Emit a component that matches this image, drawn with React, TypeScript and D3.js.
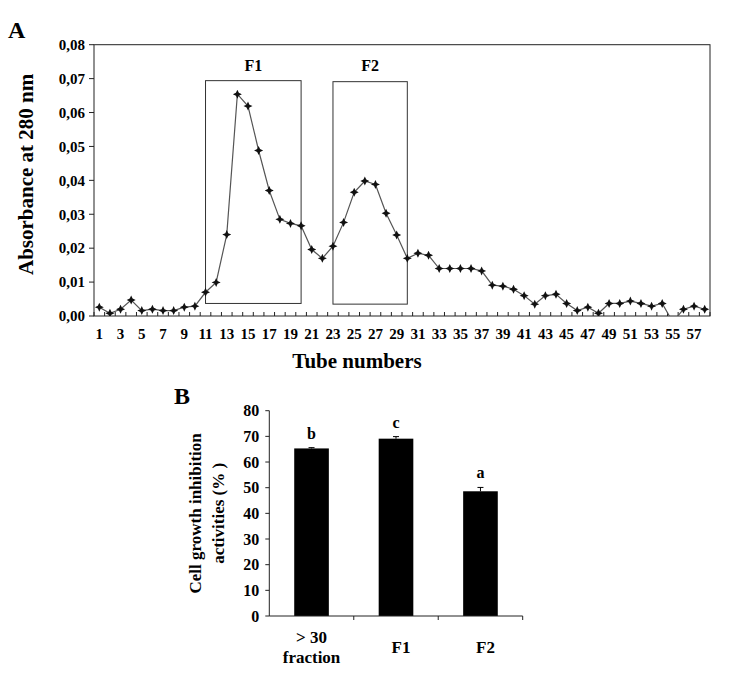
import React from "react";
import * as d3 from "d3";

const tubes: number[] = d3.range(1, 59);
const absorbance: number[] = [
  0.0026, 0.0008, 0.002, 0.0047, 0.0016, 0.002, 0.0016, 0.0016, 0.0026, 0.0029,
  0.007, 0.0099, 0.024, 0.0654, 0.0619, 0.0488, 0.037, 0.0285, 0.0273, 0.0266,
  0.0196, 0.017, 0.0206, 0.0276, 0.0365, 0.0398, 0.0388, 0.0303, 0.0239, 0.017,
  0.0185, 0.0179, 0.014, 0.014, 0.014, 0.014, 0.0133, 0.0091, 0.0088, 0.0079,
  0.006, 0.0035, 0.006, 0.0064, 0.0037, 0.0016, 0.0026, 0.0008, 0.0037, 0.0037,
  0.0044, 0.0037, 0.0029, 0.0037, -0.0018, 0.002, 0.0029, 0.002,
];
const yTicksA: number[] = [0, 0.01, 0.02, 0.03, 0.04, 0.05, 0.06, 0.07, 0.08];

const boxLabels: string[] = ["F1", "F2"];
const boxStart: number[] = [11, 23];
const boxEnd: number[] = [20, 30];
const boxTop: number[] = [0.0694, 0.0691];
const boxBottom: number[] = [0.0037, 0.0035];

const fractions: string[] = ["> 30 fraction", "F1", "F2"];
const inhibition: number[] = [65.3, 69.1, 48.6];
const inhibitionErr: number[] = [0.3, 0.8, 1.5];
const sigLetters: string[] = ["b", "c", "a"];
const yTicksB: number[] = [0, 10, 20, 30, 40, 50, 60, 70, 80];

const FONT = "'Liberation Serif', 'Times New Roman', serif";

function starPath(cx: number, cy: number, r: number): string {
  const s = r * 0.32;
  return `M${cx},${cy - r} L${cx + s},${cy - s} L${cx + r},${cy} L${cx + s},${cy + s} L${cx},${cy + r} L${cx - s},${cy + s} L${cx - r},${cy} L${cx - s},${cy - s} Z`;
}

export default function App() {
  // Chart A
  const aL = 94, aR = 710, aT = 44.7, aB = 316;
  const x = d3.scaleBand<number>().domain(tubes).range([aL, aR]);
  const y = d3.scaleLinear().domain([0, 0.08]).range([aB, aT]);
  const bw = x.bandwidth();
  const cx = (t: number) => (x(t) as number) + bw / 2;
  const line = d3
    .line<number>()
    .x((_, i) => cx(tubes[i]))
    .y((d) => y(d));
  const fmt = (v: number) => v.toFixed(2).replace(".", ",");

  // Chart B
  const bL = 269.3, bR = 522.7, bT = 410.7, bB = 616;
  const xb = d3.scaleBand<string>().domain(fractions).range([bL, bR]);
  const yb = d3.scaleLinear().domain([0, 80]).range([bB, bT]);
  const barW = xb.bandwidth() * 0.41;

  return (
    <svg
      width={740}
      height={682}
      style={{ position: "absolute", left: 0, top: 0, background: "#fff" }}
      fontFamily={FONT}
      fontWeight="bold"
    >
      <rect x={0} y={0} width={740} height={682} fill="#fff" />
      <defs>
        <clipPath id="plotA">
          <rect x={aL} y={aT} width={aR - aL} height={aB - aT} />
        </clipPath>
      </defs>

      {/* Panel A */}
      <text x={8} y={38} fontSize={24}>A</text>
      <rect x={aL} y={aT} width={aR - aL} height={aB - aT} fill="none" stroke="#222" strokeWidth={1} />
      {yTicksA.map((t) => (
        <g key={"ya" + t}>
          <line x1={aL - 5} x2={aL} y1={y(t)} y2={y(t)} stroke="#222" />
          <text x={aL - 9} y={y(t)} dy="0.35em" textAnchor="end" fontSize={15}>
            {fmt(t)}
          </text>
        </g>
      ))}
      {d3.range(0, tubes.length + 1).map((i) => {
        const xx = aL + i * bw;
        return <line key={"xt" + i} x1={xx} x2={xx} y1={aB} y2={aB - 4} stroke="#222" />;
      })}
      {tubes
        .filter((t) => t % 2 === 1)
        .map((t) => (
          <text key={"xl" + t} x={cx(t)} y={339} textAnchor="middle" fontSize={15}>
            {t}
          </text>
        ))}
      <text x={357} y={368} textAnchor="middle" fontSize={21}>
        Tube numbers
      </text>
      <text
        transform={`translate(33,${(aT + aB) / 2 - 6}) rotate(-90)`}
        textAnchor="middle"
        fontSize={21}
      >
        Absorbance at 280 nm
      </text>

      {boxLabels.map((lab, i) => {
        const x0 = cx(boxStart[i]);
        const x1 = cx(boxEnd[i]);
        return (
          <g key={lab}>
            <rect
              x={x0}
              y={y(boxTop[i])}
              width={x1 - x0}
              height={y(boxBottom[i]) - y(boxTop[i])}
              fill="none"
              stroke="#333"
              strokeWidth={1}
            />
            <text x={(x0 + x1) / 2} y={71} textAnchor="middle" fontSize={16}>
              {lab}
            </text>
          </g>
        );
      })}

      <g clipPath="url(#plotA)">
        <path d={line(absorbance) || ""} fill="none" stroke="#555" strokeWidth={1.2} />
        {absorbance.map((v, i) => (
          <path key={"m" + i} d={starPath(cx(tubes[i]), y(v), 4.5)} fill="#111" />
        ))}
      </g>

      {/* Panel B */}
      <text x={174} y={404} fontSize={24}>B</text>
      {fractions.map((f, i) => {
        const c = (xb(f) as number) + xb.bandwidth() / 2;
        const top = yb(inhibition[i]);
        const errTop = yb(inhibition[i] + inhibitionErr[i]);
        return (
          <g key={f}>
            <rect x={c - barW / 2} y={top} width={barW} height={bB - top} fill="#000" />
            <line x1={c} x2={c} y1={top} y2={errTop} stroke="#000" />
            <line x1={c - 3} x2={c + 3} y1={errTop} y2={errTop} stroke="#000" />
            <text x={c} y={errTop - 9} textAnchor="middle" fontSize={16}>
              {sigLetters[i]}
            </text>
          </g>
        );
      })}
      <line x1={bL} x2={bL} y1={bT} y2={bB} stroke="#222" />
      <line x1={bL} x2={bR} y1={bB} y2={bB} stroke="#222" />
      {yTicksB.map((t) => (
        <g key={"yb" + t}>
          <line x1={bL - 4} x2={bL} y1={yb(t)} y2={yb(t)} stroke="#222" />
          <text x={bL - 10} y={yb(t)} dy="0.35em" textAnchor="end" fontSize={16}>
            {t}
          </text>
        </g>
      ))}
      {fractions.map((f, i) => {
        const xe = (xb(f) as number) + xb.bandwidth();
        return <line key={"bt" + i} x1={xe} x2={xe} y1={bB} y2={bB + 4} stroke="#222" />;
      })}
      {fractions.map((f) => {
        const c = (xb(f) as number) + xb.bandwidth() / 2;
        const parts = f === "> 30 fraction" ? ["> 30", "fraction"] : [f];
        return (
          <text key={"bl" + f} textAnchor="middle" fontSize={17}>
            {parts.length === 2 ? (
              <>
                <tspan x={c} y={643}>{parts[0]}</tspan>
                <tspan x={c} y={663}>{parts[1]}</tspan>
              </>
            ) : (
              <tspan x={c + 5} y={653}>{parts[0]}</tspan>
            )}
          </text>
        );
      })}
      <text transform={`translate(201,${(bT + bB) / 2}) rotate(-90)`} textAnchor="middle" fontSize={17}>
        Cell growth inhibition
      </text>
      <text transform={`translate(224,${(bT + bB) / 2}) rotate(-90)`} textAnchor="middle" fontSize={17}>
        activities (% )
      </text>
    </svg>
  );
}
